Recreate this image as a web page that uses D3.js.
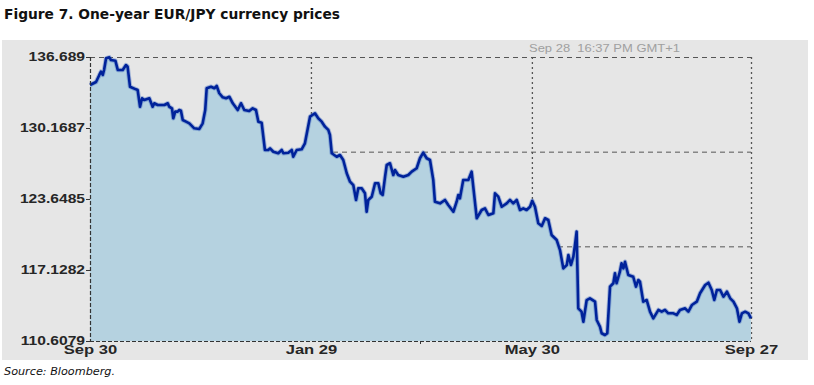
<!DOCTYPE html>
<html>
<head>
<meta charset="utf-8">
<script src="https://cdn.jsdelivr.net/npm/d3@7"></script>
<style>
  body { margin: 0; background: #ffffff; }
  svg { display: block; }
</style>
</head>
<body>
<div id="chart"></div>
<script>
// EUR/JPY one-year daily prices
// day offsets are counted from Sep 30
const startDate = new Date(2009, 8, 30)

const dayOffsets = [
  0, 3.3, 5.1, 6.0, 7.0, 7.7, 8.8, 10.6, 11.5, 13.9, 15.2, 17.9, 19.7, 20.6, 21.9, 25.2, 26.1,
  27.4, 28.5, 29.7, 32.5, 34.3, 35.2, 37.1, 40.7, 42.6, 43.4, 44.9, 45.6, 46.7, 48.0, 48.9, 49.8,
  50.8, 52.6, 54.4, 57.1, 59.9, 61.7, 63.1, 63.9, 66.3, 68.1, 69.4, 70.8, 72.7, 74.5, 76.3, 78.2,
  80.9, 82.7, 84.5, 87.2, 89.1, 90.9, 92.2, 94.0, 95.8, 97.6, 98.6, 100.4, 103.1, 105.0, 105.9,
  108.6, 110.5, 111.3, 113.2, 115.9, 117.7, 120.5, 123.2, 125.0, 126.9, 128.7, 130.5, 131.4,
  132.4, 135.1, 136.9, 138.7, 140.6, 142.4, 144.2, 145.7, 146.9, 148.8, 150.6, 151.5, 152.4,
  154.3, 156.1, 157.9, 159.2, 160.3, 161.6, 162.5, 164.3, 166.1, 167.0, 168.8, 171.6, 174.3,
  176.2, 178.9, 180.7, 182.5, 184.4, 186.2, 188.0, 188.9, 191.7, 194.4, 196.2, 199.0, 200.8,
  201.7, 202.6, 204.4, 207.2, 209.0, 210.5, 211.8, 214.5, 216.3, 218.2, 220.9, 221.8, 223.6,
  225.5, 228.2, 230.0, 231.8, 233.7, 235.5, 237.3, 239.1, 241.0, 242.2, 243.7, 245.5, 247.4,
  249.2, 251.0, 252.8, 255.6, 257.4, 259.2, 261.1, 262.0, 263.4, 264.7, 265.6, 266.5, 267.4,
  269.2, 270.2, 272.0, 273.8, 276.6, 277.5, 279.3, 280.2, 282.0, 283.3, 284.8, 286.6, 287.5,
  288.4, 290.2, 291.1, 292.1, 293.0, 294.8, 297.5, 299.0, 300.3, 301.2, 303.0, 304.9, 306.7,
  308.5, 311.3, 313.1, 314.9, 316.7, 319.5, 321.3, 323.1, 325.9, 327.7, 329.6, 332.3, 334.1,
  336.9, 338.7, 340.5, 341.9, 343.3, 345.1, 346.9, 348.8, 350.6, 352.4, 354.3, 355.7, 357.0,
  358.8, 360.6, 362
]

const prices = [
  134.12, 134.39, 135.04, 135.34, 135.04, 135.50, 136.57, 136.66, 136.41, 136.35, 135.50, 135.50, 135.95, 135.80, 133.96, 133.72, 133.66,
  132.12, 132.90, 132.74, 132.90, 132.12, 132.44, 132.28, 132.28, 132.44, 132.12, 131.98, 131.06, 131.67, 131.67, 131.82, 131.76,
  130.90, 130.75, 130.60, 130.14, 130.08, 130.60, 131.82, 133.82, 133.96, 133.82, 134.03, 133.36, 132.99, 132.90, 133.04, 132.44,
  131.82, 132.44, 131.82, 131.73, 131.98, 131.82, 130.75, 130.66, 128.15, 128.15, 128.30, 127.99, 127.85, 128.15, 127.85,
  127.90, 128.15, 127.53, 128.15, 128.21, 128.76, 131.21, 131.52, 131.06, 130.75, 130.29, 129.99, 129.53,
  127.85, 127.53, 127.69, 127.23, 126.01, 125.24, 124.93, 123.56, 124.63, 124.63, 124.17, 122.48, 123.56,
  123.86, 125.09, 125.09, 124.17, 124.02, 125.70, 126.77, 126.93, 125.85, 126.31, 125.85, 125.70, 125.85,
  126.16, 126.47, 127.39, 127.90, 127.39, 127.23, 125.39, 123.40, 123.25, 123.56, 123.10, 122.48, 123.40,
  124.02, 123.71, 125.39, 125.39, 126.16, 123.86, 121.88, 122.64, 122.79, 122.18, 122.34, 124.17, 123.86,
  122.94, 123.25, 123.56, 123.25, 123.56, 122.64, 122.79, 122.64, 122.94, 123.49, 122.94, 121.42, 121.17,
  121.88, 121.72, 120.34, 119.88, 118.96, 117.28, 117.59, 118.51, 117.59, 118.35, 119.42, 120.65, 113.61,
  113.30, 112.38, 114.37, 114.53, 114.22, 112.54, 111.92, 111.32, 111.16, 111.32, 115.60, 115.91, 116.83,
  115.91, 116.97, 117.74, 117.28, 117.89, 116.67, 116.51, 115.60, 116.21, 116.05, 114.22, 114.37, 113.30,
  112.69, 113.46, 113.30, 113.46, 113.15, 113.15, 113.00, 113.46, 113.61, 113.30, 113.91, 114.22, 114.99,
  115.75, 115.96, 115.29, 114.37, 115.29, 115.29, 114.68, 115.14, 114.53, 114.22, 113.61, 112.38, 113.15,
  113.30, 113.15, 112.69
]

const xTickDays = [0, 121, 242, 362]
const xTickLabels = ['Sep 30', 'Jan 29', 'May 30', 'Sep 27']
const yTickValues = [136.689, 130.1687, 123.6485, 117.1282, 110.6079]
const yTickLabels = ['136.689', '130.1687', '123.6485', '117.1282', '110.6079']

const titleText = 'Figure 7. One-year EUR/JPY currency prices'
const sourceText = 'Source: Bloomberg.'
const stampText = 'Sep 28  16:37 PM GMT+1'

const width = 814
const height = 385
const margin = { left: 90, right: 63, top: 57, bottom: 44 }

const toDate = d => new Date(startDate.getTime() + d * 864e5)
const data = dayOffsets.map((d, i) => ({ date: toDate(d), value: prices[i] }))

// the source picture is stretched sideways, so widen text to match
function stretch(sel, factor) {
  sel.each(function () {
    const w = this.getComputedTextLength()
    d3.select(this)
      .attr('textLength', w * factor)
      .attr('lengthAdjust', 'spacingAndGlyphs')
  })
}

const svg = d3.select('#chart')
  .append('svg')
  .attr('width', width)
  .attr('height', height)

// grey chart panel
svg.append('rect')
  .attr('x', 2)
  .attr('y', 40)
  .attr('width', 806)
  .attr('height', 320)
  .attr('fill', '#e6e6e6')

svg.append('text')
  .attr('x', 4)
  .attr('y', 19)
  .attr('font-family', 'DejaVu Sans, Verdana, sans-serif')
  .attr('font-weight', 'bold')
  .attr('font-size', '13.5px')
  .attr('fill', '#111')
  .attr('textLength', 336)
  .attr('lengthAdjust', 'spacingAndGlyphs')
  .text(titleText)

svg.append('text')
  .attr('x', 4)
  .attr('y', 375)
  .attr('font-family', 'DejaVu Sans, Verdana, sans-serif')
  .attr('font-style', 'italic')
  .attr('font-size', '10.5px')
  .attr('fill', '#111')
  .attr('textLength', 111)
  .attr('lengthAdjust', 'spacingAndGlyphs')
  .text(sourceText)

const x = d3.scaleTime()
  .domain([toDate(0), toDate(362)])
  .range([margin.left, width - margin.right])

const y = d3.scaleLinear()
  .domain([yTickValues[4], yTickValues[0]])
  .range([height - margin.bottom, margin.top])

const [yMin, yMax] = y.domain()
const gridValues = d3.range(3).map(i => yMax - i * (yMax - yMin) / 3)

// grid lines sit behind the filled area
const grid = svg.append('g').attr('class', 'grid')

grid.selectAll('line.h')
  .data(gridValues)
  .join('line')
  .attr('class', 'h')
  .attr('x1', x.range()[0])
  .attr('x2', x.range()[1])
  .attr('y1', d => y(d) + 0.5)
  .attr('y2', d => y(d) + 0.5)
  .attr('stroke', '#555')
  .attr('stroke-width', 1)
  .attr('stroke-dasharray', '5,4')

grid.selectAll('line.v')
  .data(xTickDays.slice(1))
  .join('line')
  .attr('class', 'v')
  .attr('x1', d => x(toDate(d)) + 0.5)
  .attr('x2', d => x(toDate(d)) + 0.5)
  .attr('y1', y.range()[1])
  .attr('y2', y.range()[0])
  .attr('stroke', '#555')
  .attr('stroke-width', 1.3)
  .attr('stroke-dasharray', '2,3')

const area = d3.area()
  .x(d => x(d.date))
  .y0(y(yMin))
  .y1(d => y(d.value))

const line = d3.line()
  .x(d => x(d.date))
  .y(d => y(d.value))

svg.append('path')
  .datum(data)
  .attr('d', area)
  .attr('fill', '#b5d2e0')

// soft halo under the line
svg.append('path')
  .datum(data)
  .attr('d', line)
  .attr('fill', 'none')
  .attr('stroke', '#4a73c4')
  .attr('stroke-opacity', 0.45)
  .attr('stroke-width', 4.5)
  .attr('stroke-linejoin', 'round')

svg.append('path')
  .datum(data)
  .attr('d', line)
  .attr('fill', 'none')
  .attr('stroke', '#00229a')
  .attr('stroke-width', 2.6)
  .attr('stroke-linejoin', 'round')

// axes
const yAxis = d3.axisLeft(y)
  .tickValues(yTickValues)
  .tickFormat((d, i) => yTickLabels[i])
  .tickSize(4)
  .tickPadding(1)

const gy = svg.append('g')
  .attr('transform', `translate(${margin.left},0)`)
  .call(yAxis)

gy.select('.domain').remove()
gy.selectAll('.tick line').attr('stroke', '#333')
gy.selectAll('.tick text')
  .attr('font-family', 'Liberation Sans, Arial, sans-serif')
  .attr('font-weight', 'bold')
  .attr('font-size', '12px')
  .attr('fill', '#262626')
  .attr('dy', '0.28em')
  .call(stretch, 1.3)

const xAxis = d3.axisBottom(x)
  .tickValues(xTickDays.map(toDate))
  .tickFormat((d, i) => xTickLabels[i])
  .tickSize(0)
  .tickPadding(4)

const gx = svg.append('g')
  .attr('transform', `translate(0,${height - margin.bottom})`)
  .call(xAxis)

gx.select('.domain').remove()
gx.selectAll('.tick text')
  .attr('font-family', 'Liberation Sans, Arial, sans-serif')
  .attr('font-weight', 'bold')
  .attr('font-size', '12px')
  .attr('fill', '#262626')
  .call(stretch, 1.38)

// middle minor tick on the time axis
gx.append('line')
  .attr('x1', x(toDate(181)))
  .attr('x2', x(toDate(181)))
  .attr('y1', 0)
  .attr('y2', 3)
  .attr('stroke', '#333')

// dashed frame lines on the left and bottom
svg.append('line')
  .attr('x1', margin.left + 0.5)
  .attr('x2', margin.left + 0.5)
  .attr('y1', y.range()[1])
  .attr('y2', y.range()[0])
  .attr('stroke', '#333')
  .attr('stroke-width', 1.2)
  .attr('stroke-dasharray', '4,2')

svg.append('line')
  .attr('x1', x.range()[0])
  .attr('x2', x.range()[1])
  .attr('y1', y.range()[0] + 0.5)
  .attr('y2', y.range()[0] + 0.5)
  .attr('stroke', '#333')
  .attr('stroke-width', 1.2)
  .attr('stroke-dasharray', '4,2')

svg.append('text')
  .attr('x', 529)
  .attr('y', 52)
  .attr('font-family', 'Liberation Sans, Arial, sans-serif')
  .attr('font-size', '11px')
  .attr('fill', '#a0a0a0')
  .attr('xml:space', 'preserve')
  .style('white-space', 'pre')
  .attr('textLength', 151)
  .attr('lengthAdjust', 'spacingAndGlyphs')
  .text(stampText)
</script>
</body>
</html>
